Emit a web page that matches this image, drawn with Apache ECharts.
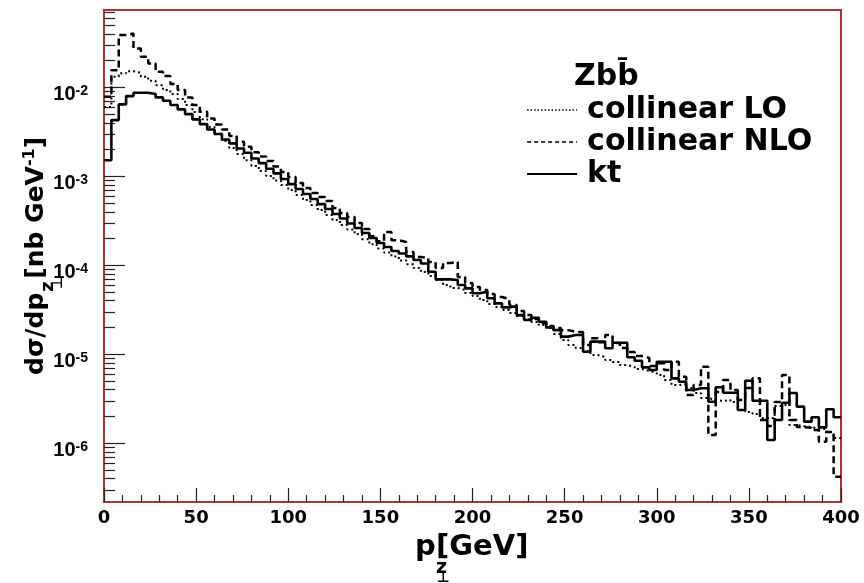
<!DOCTYPE html>
<html><head><meta charset="utf-8">
<script src="https://cdn.jsdelivr.net/npm/echarts@6.0.0/dist/echarts.min.js"></script>
<style>html,body{margin:0;padding:0;background:#fff}#c{width:864px;height:583px}</style>
</head><body><div id="c"></div>
<script>
// ---- data ----
const binWidth = 4; // GeV per bin, bins start at 0
const seriesNames = ['collinear LO', 'collinear NLO', 'kt'];
const yDecades = [-6, -5, -4, -3, -2];   // tick labels 10^n
const xTickStep = 50;

const loVals = [
 6.01e-3,1.32e-2,1.44e-2,1.52e-2,1.46e-2,1.32e-2,1.19e-2,1.06e-2,9.33e-3,8.41e-3,
 7.39e-3,6.33e-3,5.28e-3,4.40e-3,3.58e-3,2.99e-3,2.49e-3,2.08e-3,1.78e-3,1.52e-3,
 1.31e-3,1.15e-3,1.01e-3,8.97e-4,7.98e-4,7.02e-4,6.17e-4,5.42e-4,4.76e-4,4.18e-4,
 3.67e-4,3.23e-4,2.84e-4,2.53e-4,2.25e-4,1.97e-4,1.73e-4,1.55e-4,1.39e-4,1.26e-4,
 1.13e-4,1.03e-4,9.33e-5,8.41e-5,7.58e-5,6.83e-5,6.01e-5,5.56e-5,5.28e-5,4.88e-5,
 4.52e-5,4.07e-5,3.67e-5,3.40e-5,3.15e-5,2.91e-5,2.69e-5,2.49e-5,2.31e-5,2.13e-5,
 1.97e-5,1.69e-5,1.45e-5,1.27e-5,1.18e-5,1.09e-5,9.82e-6,9.33e-6,8.63e-6,8.19e-6,
 7.58e-6,7.20e-6,6.83e-6,6.49e-6,6.17e-6,5.85e-6,5.14e-6,4.52e-6,4.64e-6,4.18e-6,
 3.67e-6,3.23e-6,3.07e-6,2.99e-6,3.07e-6,2.91e-6,2.37e-6,2.25e-6,2.13e-6,1.92e-6,
 1.92e-6,2.63e-6,2.76e-6,1.61e-6,1.56e-6,1.52e-6,1.45e-6,1.45e-6,1.34e-6,1.15e-6];

const nloVals = [
 7.84e-3,1.56e-2,3.87e-2,4.04e-2,2.74e-2,2.21e-2,1.86e-2,1.50e-2,1.34e-2,1.09e-2,
 9.33e-3,7.72e-3,6.33e-3,5.32e-3,4.48e-3,3.84e-3,3.37e-3,2.84e-3,2.45e-3,2.15e-3,
 1.87e-3,1.67e-3,1.49e-3,1.29e-3,1.12e-3,9.82e-4,8.41e-4,7.39e-4,6.49e-4,5.85e-4,
 5.28e-4,4.40e-4,3.87e-4,3.49e-4,2.99e-4,2.56e-4,2.13e-4,1.87e-4,2.37e-4,1.92e-4,
 1.83e-4,1.41e-4,1.24e-4,1.21e-4,1.09e-4,9.33e-5,1.06e-4,1.09e-4,7.39e-5,6.33e-5,
 5.70e-5,5.28e-5,4.76e-5,4.40e-5,4.18e-5,3.58e-5,3.07e-5,2.76e-5,2.49e-5,2.25e-5,
 2.08e-5,1.97e-5,1.87e-5,1.79e-5,1.78e-5,1.27e-5,1.52e-5,1.37e-5,1.65e-5,1.34e-5,
 1.18e-5,1.06e-5,9.57e-6,9.09e-6,7.39e-6,7.92e-6,6.66e-6,8.26e-6,5.60e-6,3.49e-6,
 4.52e-6,7.26e-6,1.24e-6,3.77e-6,5.14e-6,3.97e-6,3.07e-6,4.18e-6,5.37e-6,1.83e-6,
 1.56e-6,2.91e-6,5.85e-6,1.83e-6,1.52e-6,1.49e-6,1.41e-6,1.04e-6,1.34e-6,4.21e-7];

const ktVals = [
 1.52e-3,4.29e-3,6.44e-3,7.98e-3,8.70e-3,8.70e-3,8.41e-3,7.72e-3,7.07e-3,6.33e-3,
 5.66e-3,5.01e-3,4.37e-3,3.87e-3,3.37e-3,2.99e-3,2.60e-3,2.35e-3,2.06e-3,1.84e-3,
 1.59e-3,1.41e-3,1.22e-3,1.08e-3,9.33e-4,8.19e-4,7.20e-4,6.33e-4,5.56e-4,4.88e-4,
 4.29e-4,3.77e-4,3.36e-4,2.95e-4,2.63e-4,2.31e-4,2.03e-4,1.78e-4,1.61e-4,1.45e-4,
 1.36e-4,1.26e-4,1.15e-4,1.05e-4,8.48e-5,6.96e-5,6.96e-5,6.83e-5,6.01e-5,5.51e-5,
 4.85e-5,5.05e-5,4.26e-5,3.74e-5,3.37e-5,3.49e-5,2.76e-5,2.43e-5,2.58e-5,2.32e-5,
 2.01e-5,1.87e-5,1.58e-5,1.65e-5,1.65e-5,1.07e-5,1.39e-5,1.39e-5,1.17e-5,1.35e-5,
 1.35e-5,9.25e-6,8.48e-6,7.14e-6,6.66e-6,8.26e-6,8.26e-6,5.37e-6,4.92e-6,3.97e-6,
 4.15e-6,4.15e-6,2.93e-6,4.26e-6,3.70e-6,3.70e-6,2.37e-6,5.05e-6,3.01e-6,3.01e-6,
 1.09e-6,1.83e-6,2.86e-6,3.67e-6,2.58e-6,1.75e-6,1.96e-6,1.51e-6,2.41e-6,1.96e-6];

// ---- helpers ----
function toSteps(vals) {
  const pts = vals.map((v, i) => [i * binWidth, Math.log10(v)]);
  pts.push([vals.length * binWidth, Math.log10(vals[vals.length - 1])]);
  return pts;
}
const yMin = -6.66, yMax = -1.13;
const yMinor = [];
for (let n = -7; n <= -2; n++) for (let k = 2; k <= 9; k++) {
  const v = n + Math.log10(k);
  if (v > yMin && v < yMax) yMinor.push(v);
}
const DJ = '"DejaVu Sans", sans-serif';
const LB = '"Liberation Sans", Arial, sans-serif';
const cv = document.createElement('canvas').getContext('2d');
function tw(t, fs, fam) { cv.font = 'bold ' + fs + 'px ' + fam; return cv.measureText(t).width; }
function piece(t, x, base, fs, fam) {
  return { type: 'text', x: x, y: base - 0.35 * fs,
    style: { text: t, font: 'bold ' + fs + 'px ' + fam, fill: '#000', align: 'left', verticalAlign: 'middle' } };
}

// y title (rotated, reading upward); local x = along text, local y = baseline offset
const yt = [];
let u = 0;
yt.push(piece('dσ/dp', u, 0, 25, DJ)); u += tw('dσ/dp', 25, DJ);
yt.push(piece('z', u + 1, 10, 18, DJ));
yt.push(piece('⊥', u + 4, 18, 13, DJ));
u += 14;
yt.push(piece('[nb GeV', u, 0, 25, DJ)); u += tw('[nb GeV', 25, DJ);
yt.push(piece('-1', u, -10, 16, DJ)); u += tw('-1', 16, DJ);
yt.push(piece(']', u, 0, 25, DJ));

// x title
const xt = [];
xt.push(piece('p', 415, 558, 29, DJ));
xt.push(piece('z', 436, 575, 19, DJ));
xt.push(piece('⊥', 437, 583, 14, DJ));
xt.push(piece('[GeV]', 436, 558, 29, DJ));

const frame = '#b0302a';
const legendLines = [
  { width: 1.5, type: [1.5, 2] },
  { width: 1.6, type: [4, 3] },
  { width: 2.2, type: 'solid' }
];
const chart = echarts.init(document.getElementById('c'), null, { renderer: 'canvas' });
chart.setOption({
  animation: false,
  backgroundColor: '#fff',
  grid: { left: 104, top: 10, width: 737, height: 492, show: true, borderColor: frame, borderWidth: 2, backgroundColor: '#fff' },
  xAxis: {
    type: 'value', min: 0, max: 400, interval: xTickStep,
    axisLine: { show: false }, splitLine: { show: false },
    axisTick: { inside: true, length: 14, lineStyle: { color: '#222', width: 1.2 } },
    minorTick: { show: true, splitNumber: 5, length: 7, lineStyle: { color: '#222', width: 1.2 } },
    minorSplitLine: { show: false },
    axisLabel: { margin: 7, fontSize: 18, fontWeight: 'bold', fontFamily: DJ, color: '#000' }
  },
  yAxis: [{
    type: 'value', min: yMin, max: yMax, position: 'left',
    axisLine: { show: false }, splitLine: { show: false },
    axisTick: { inside: true, length: 21, customValues: yDecades, lineStyle: { color: '#222', width: 1.2 } },
    axisLabel: {
      customValues: yDecades, margin: 16, padding: [14, 0, 0, 0],
      formatter: v => '{b|10}{s|' + Math.round(v) + '}',
      rich: {
        b: { fontSize: 20, fontWeight: 'bold', fontFamily: LB, color: '#000', verticalAlign: 'top', lineHeight: 20 },
        s: { fontSize: 14, fontWeight: 'bold', fontFamily: LB, color: '#000', verticalAlign: 'top', lineHeight: 20 }
      }
    }
  }, {
    type: 'value', min: yMin, max: yMax, position: 'left',
    axisLine: { show: false }, splitLine: { show: false }, axisLabel: { show: false },
    axisTick: { inside: true, length: 11, customValues: yMinor, lineStyle: { color: '#222', width: 1.2 } }
  }],
  legend: {
    orient: 'vertical', left: 521, top: 90, itemWidth: 50, itemHeight: 14, itemGap: 2,
    itemStyle: { color: 'rgba(0,0,0,0)', borderWidth: 0, opacity: 0 },
    data: seriesNames.map((n, i) => ({ name: n, lineStyle: Object.assign({ color: '#000' }, legendLines[i]) })),
    textStyle: { fontSize: 30, fontWeight: 'bold', fontFamily: DJ, color: '#000', lineHeight: 30, padding: [0, 0, 0, 5] }
  },
  series: [
    { name: seriesNames[0], type: 'line', step: 'end', symbol: 'none', data: toSteps(loVals),
      lineStyle: { color: '#000', width: 2, type: [2, 3] }, itemStyle: { color: '#000' } },
    { name: seriesNames[1], type: 'line', step: 'end', symbol: 'none', data: toSteps(nloVals),
      lineStyle: { color: '#000', width: 2.5, type: [7, 4] }, itemStyle: { color: '#000' } },
    { name: seriesNames[2], type: 'line', step: 'end', symbol: 'none', data: toSteps(ktVals),
      lineStyle: { color: '#000', width: 2.6 }, itemStyle: { color: '#000' } }
  ],
  graphic: [
    { type: 'group', x: 45, y: 375, rotation: Math.PI / 2, children: yt },
    { type: 'group', children: xt },
    piece('Zbb\u0304', 574, 88, 30, DJ)
  ]
});
</script>
</body></html>
